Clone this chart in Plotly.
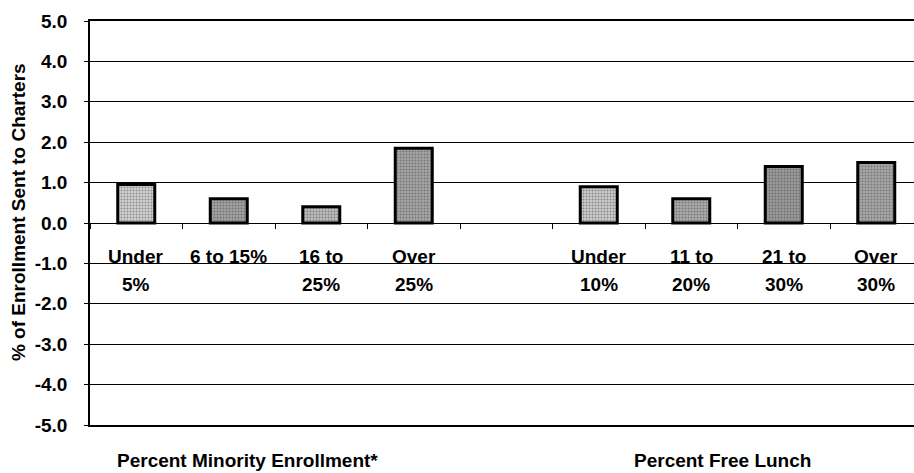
import plotly.graph_objects as go

# Groups and their share of enrollment sent to charter schools (%)
minority_groups = ["Under 5%", "6 to 15%", "16 to 25%", "Over 25%"]
minority_values = [0.95, 0.6, 0.4, 1.85]
lunch_groups = ["Under 10%", "11 to 20%", "21 to 30%", "Over 30%"]
lunch_values = [0.9, 0.6, 1.4, 1.5]

# Two-line category labels drawn inside the plot
minority_labels = [("Under", "5%"), ("6 to 15%", ""), ("16 to", "25%"), ("Over", "25%")]
lunch_labels = [("Under", "10%"), ("11 to", "20%"), ("21 to", "30%"), ("Over", "30%")]

y_ticks = [5, 4, 3, 2, 1, 0, -1, -2, -3, -4, -5]
y_tick_text = ["5.0", "4.0", "3.0", "2.0", "1.0", "0.0", "-1.0", "-2.0", "-3.0", "-4.0", "-5.0"]

group_titles = ["Percent Minority Enrollment*", "Percent Free Lunch"]

# an empty slot separates the two groups on the category axis
categories = minority_groups + [" "] + lunch_groups
bar_x = minority_groups + lunch_groups
bar_y = minority_values + lunch_values
bar_labels = minority_labels + lunch_labels

FONT = "Liberation Sans, Arial, sans-serif"
TXT = dict(family=FONT, size=19, color="black", weight="bold")
shades = ["#d2d2d2", "#a2a2a2", "#bcbcbc", "#a6a6a6", "#cccccc", "#ababab", "#9a9a9a", "#a8a8a8"]

fig = go.Figure()
fig.add_trace(go.Bar(
    x=bar_x, y=bar_y, width=0.4,
    marker=dict(
        color=shades,
        line=dict(color="black", width=3),
        pattern=dict(shape=".", fgcolor="#555555", size=3, solidity=0.35, fillmode="overlay"),
    ),
    hoverinfo="x+y", showlegend=False,
))
# helper trace so the boundary ticks along the zero line follow the categories
fig.add_trace(go.Scatter(x=categories, y=[0] * len(categories), xaxis="x2",
                         mode="none", hoverinfo="skip", showlegend=False))

annotations = []
for cat, (l1, l2) in zip(bar_x, bar_labels):
    annotations.append(dict(x=cat, y=-0.83, xref="x", yref="y", text=l1, showarrow=False,
                            font=TXT, yanchor="middle"))
    if l2:
        annotations.append(dict(x=cat, y=-1.53, xref="x", yref="y", text=l2, showarrow=False,
                                font=TXT, yanchor="middle"))

annotations.append(dict(x=1.2, y=-0.087, xref="x", yref="paper", text=group_titles[0],
                        showarrow=False, font=TXT, xanchor="center", yanchor="middle"))
annotations.append(dict(x=6.34, y=-0.087, xref="x", yref="paper", text=group_titles[1],
                        showarrow=False, font=TXT, xanchor="center", yanchor="middle"))
annotations.append(dict(x=-72 / 824, y=0.527, xref="paper", yref="paper",
                        text="% of Enrollment Sent to Charters", textangle=-90,
                        showarrow=False, font=TXT, xanchor="center", yanchor="middle"))

x_range = [-0.5, -0.5 + 824 / 92.5]

fig.update_layout(
    width=914, height=473,
    margin=dict(l=90, r=0, t=21, b=48, pad=0),
    paper_bgcolor="white", plot_bgcolor="white",
    font=TXT,
    xaxis=dict(type="category", categoryorder="array", categoryarray=categories,
               range=x_range, showgrid=False, zeroline=False,
               showline=True, mirror=True, linecolor="black", linewidth=2,
               ticks="", showticklabels=False),
    xaxis2=dict(type="category", categoryorder="array", categoryarray=categories,
                overlaying="x", matches="x", anchor="free", position=0.5,
                tickson="boundaries", ticks="outside", ticklen=5, tickwidth=1,
                tickcolor="black", showticklabels=False, showgrid=False,
                showline=False, zeroline=False),
    yaxis=dict(range=[-5, 5], tickvals=y_ticks, ticktext=y_tick_text,
               showgrid=True, gridcolor="black", gridwidth=1, zeroline=False,
               showline=True, linecolor="black", linewidth=1.5,
               ticks="outside", ticklen=4, tickcolor="black",
               ticklabelstandoff=13, tickfont=TXT),
    annotations=annotations,
)

fig.write_html("out.html")
